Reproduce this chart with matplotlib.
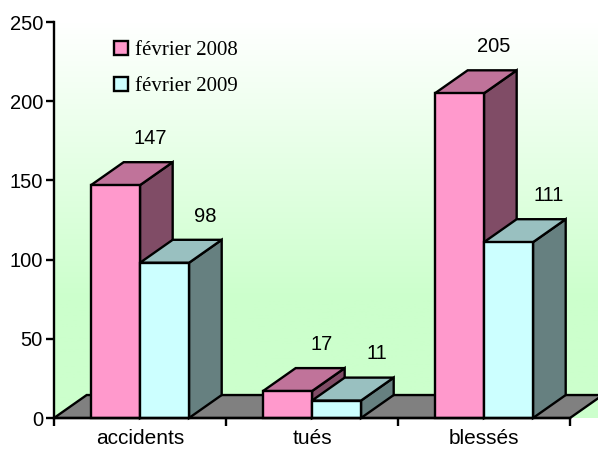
import numpy as np
import matplotlib.pyplot as plt
from matplotlib.patches import Polygon, Patch
from matplotlib.colors import LinearSegmentedColormap

categories = ['accidents', 'tués', 'blessés']
series_names = ['février 2008', 'février 2009']
values_2008 = [147, 17, 205]
values_2009 = [98, 11, 111]
yticks = [0, 50, 100, 150, 200, 250]

face_colors = ['#FF99CC', '#CCFFFF']
top_colors = ['#C0739A', '#99C0C0']
side_colors = ['#804C66', '#668080']

plt.rcParams['font.family'] = ['Liberation Sans', 'DejaVu Sans']

fig = plt.figure(figsize=(5.98, 4.5), dpi=100)
ax = fig.add_axes([54 / 598, 32 / 450, 516 / 598, 396 / 450])

width = 0.285   # bar width in category units
dx, dy = 0.19, 14.5   # depth offset (x in categories, y in data units)
lw = 1.7

# gradient wall: white at the top, full green from ~70% down
grad = np.linspace(0, 1, 256)[:, None]
wall_cmap = LinearSegmentedColormap.from_list(
    'wall', [(0, '#FFFFFF'), (0.7, '#CCFFCC'), (1, '#CCFFCC')])
ax.imshow(grad, cmap=wall_cmap, extent=(-0.5, 2.5 + 30 / 172, 0, 250),
          aspect='auto', origin='upper', clip_on=False, zorder=0)

# floor
floor = Polygon([(-0.5, 0), (2.5, 0), (2.5 + dx, dy), (-0.5 + dx, dy)],
                closed=True, facecolor='#808080', edgecolor='black', lw=lw,
                joinstyle='miter', clip_on=False, zorder=1)
ax.add_patch(floor)


def bar3d(x0, h, k, z):
    pts_front = [(x0, 0), (x0 + width, 0), (x0 + width, h), (x0, h)]
    pts_top = [(x0, h), (x0 + width, h), (x0 + width + dx, h + dy), (x0 + dx, h + dy)]
    pts_side = [(x0 + width, 0), (x0 + width + dx, dy), (x0 + width + dx, h + dy), (x0 + width, h)]
    for pts, c in [(pts_side, side_colors[k]), (pts_top, top_colors[k]), (pts_front, face_colors[k])]:
        ax.add_patch(Polygon(pts, closed=True, facecolor=c, edgecolor='black', lw=lw,
                             joinstyle='miter', clip_on=False, zorder=z))


label_shift = [0.2, 0.235]
for i in range(len(categories)):
    for k, vals in enumerate([values_2008, values_2009]):
        x0 = i - width + k * width
        bar3d(x0, vals[i], k, 2 + 2 * i + k)
        ax.text(x0 + width / 2 + label_shift[k], vals[i] + dy + 15, str(vals[i]),
                ha='center', va='center', fontsize=14.5, zorder=10)

ax.set_xlim(-0.5, 2.5)
ax.set_ylim(0, 250)
ax.set_yticks(yticks)
ax.set_xticks([-0.5, 0.5, 1.5, 2.5])
ax.set_xticklabels([])
ax.set_xticks(range(len(categories)), minor=True)
ax.set_xticklabels(categories, minor=True)
ax.tick_params(axis='y', direction='out', length=6, width=lw, labelsize=14.5, pad=2)
ax.tick_params(axis='x', which='major', direction='out', length=6, width=lw)
ax.tick_params(axis='x', which='minor', length=0, labelsize=15, pad=8)
ax.set_facecolor('none')
for s in ['top', 'right']:
    ax.spines[s].set_visible(False)
for s in ['left', 'bottom']:
    ax.spines[s].set_linewidth(lw)
    ax.spines[s].set_zorder(11)

handles = [Patch(facecolor=c, edgecolor='black', lw=lw) for c in face_colors]
ax.legend(handles, series_names, prop={'family': 'Liberation Serif', 'size': 15},
          frameon=False, loc='upper left', bbox_to_anchor=(114 / 598, 1 - 41 / 450),
          bbox_transform=fig.transFigure, handlelength=0.65, handleheight=0.65,
          handletextpad=0.35, labelspacing=0.8, borderpad=0, borderaxespad=0)

fig.savefig('out.png', dpi=100)
